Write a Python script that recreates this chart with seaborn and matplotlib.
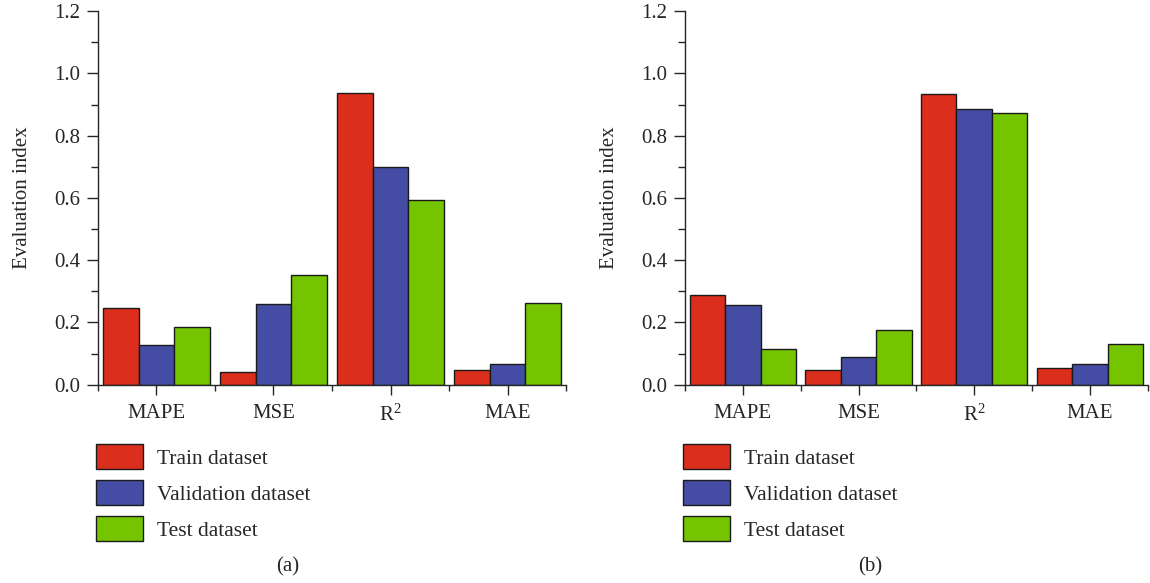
import numpy as np
import pandas as pd
import seaborn as sns
from matplotlib import pyplot as plt
from matplotlib.ticker import MultipleLocator

metrics = ['MAPE', 'MSE', 'R$^2$', 'MAE']
datasets = ['Train dataset', 'Validation dataset', 'Test dataset']

# panel (a)
train_a = [0.246, 0.041, 0.938, 0.048]
val_a = [0.128, 0.260, 0.699, 0.068]
test_a = [0.187, 0.351, 0.594, 0.264]

# panel (b)
train_b = [0.289, 0.048, 0.934, 0.055]
val_b = [0.257, 0.090, 0.884, 0.067]
test_b = [0.115, 0.176, 0.874, 0.132]

colors = ['#DC2E1C', '#444CA4', '#74C400']
ink = '#262626'

sns.set_style('ticks')
plt.rcParams['font.family'] = ['Liberation Serif', 'DejaVu Serif']
plt.rcParams['mathtext.fontset'] = 'custom'
plt.rcParams['mathtext.rm'] = 'Liberation Serif'
plt.rcParams['mathtext.it'] = 'Liberation Serif:italic'
plt.rcParams['text.color'] = ink
plt.rcParams['axes.edgecolor'] = ink
plt.rcParams['xtick.color'] = ink
plt.rcParams['ytick.color'] = ink


def long_df(train, val, test):
    rows = []
    for name, vals in zip(datasets, [train, val, test]):
        for m, v in zip(metrics, vals):
            rows.append({'metric': m, 'dataset': name, 'value': v})
    return pd.DataFrame(rows)


def panel(ax, df):
    sns.barplot(data=df, x='metric', y='value', hue='dataset', palette=colors,
                saturation=1, width=0.92, edgecolor='#1a1a1a', linewidth=1.0, ax=ax)
    ax.set_xlim(-0.5, 3.5)
    ax.set_ylim(0, 1.2)
    ax.yaxis.set_minor_locator(MultipleLocator(0.1))
    ax.set_yticks(np.arange(0, 1.21, 0.2))
    ax.set_yticklabels(['%.1f' % t for t in np.arange(0, 1.21, 0.2)], fontsize=15)
    ax.set_xticks(np.arange(-0.5, 3.6, 1.0), minor=True)
    ax.tick_params(axis='x', labelsize=15, length=7, width=1.0, pad=7)
    ax.tick_params(axis='x', which='minor', length=4, width=1.0)
    ax.tick_params(axis='y', length=8, width=1.0, pad=5)
    ax.tick_params(axis='y', which='minor', length=5, width=1.0)
    ax.set_xlabel('')
    ax.set_ylabel('Evaluation index', fontsize=15)
    ax.yaxis.set_label_coords(-0.142, 0.5)
    for s in ['left', 'bottom']:
        ax.spines[s].set_linewidth(1.0)
    sns.despine(ax=ax)
    ax.legend(loc='upper left', bbox_to_anchor=(-0.005, -0.158), frameon=False,
              fontsize=15.5, handlelength=2.2, handleheight=1.45, labelspacing=0.48,
              handletextpad=0.65, borderaxespad=0, borderpad=0)


fig = plt.figure(figsize=(11.5, 5.83), dpi=100)
ax1 = fig.add_axes([0.0852, 0.340, 0.407, 0.641])
ax2 = fig.add_axes([0.5957, 0.340, 0.4023, 0.641])

panel(ax1, long_df(train_a, val_a, test_a))
panel(ax2, long_df(train_b, val_b, test_b))

fig.text(0.25, 0.027, '(a)', ha='center', va='center', fontsize=15)
fig.text(0.757, 0.027, '(b)', ha='center', va='center', fontsize=15)

fig.savefig('out.png', dpi=100)
